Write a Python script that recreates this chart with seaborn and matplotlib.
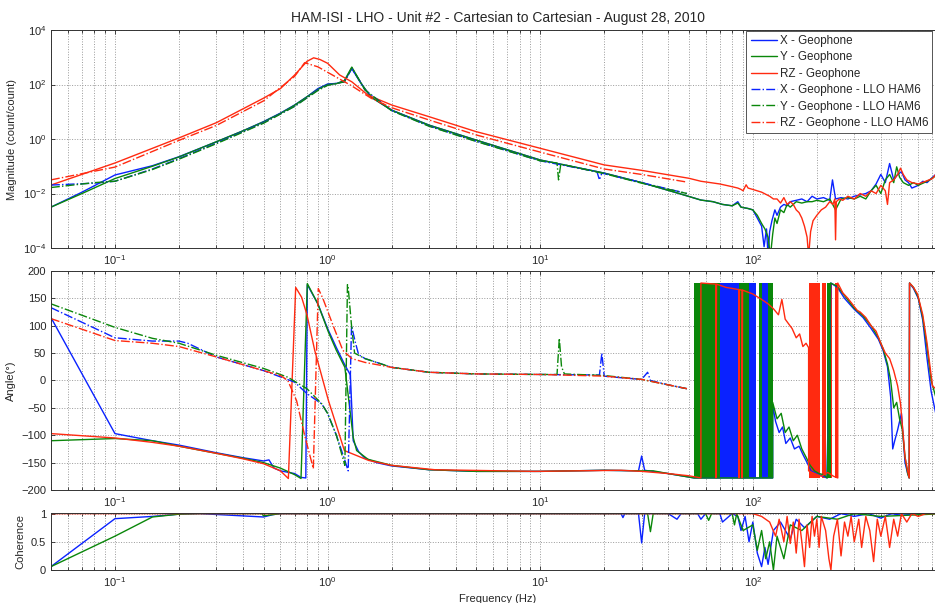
import numpy as np
import matplotlib
matplotlib.use("Agg")
import matplotlib.pyplot as plt
import matplotlib.ticker as mticker
import seaborn as sns

# =========================
# DATA
# =========================
TITLE = "HAM-ISI - LHO - Unit #2 - Cartesian to Cartesian - August 28, 2010"
labels = ["X - Geophone", "Y - Geophone", "RZ - Geophone",
          "X - Geophone - LLO HAM6", "Y - Geophone - LLO HAM6", "RZ - Geophone - LLO HAM6"]

# magnitude, stored as log10(count/count)
mag_x_f = [0.05, 0.07, 0.1, 0.15, 0.2, 0.3, 0.4, 0.5, 0.6, 0.7, 0.8, 0.9, 1.0, 1.1, 1.2, 1.3, 1.45, 1.6, 2, 3, 5, 10, 20, 30, 45, 57,
           65, 72, 80, 85, 88, 95, 100, 105, 110, 113, 116, 118, 120, 123, 127, 130, 135, 140, 145, 150, 160, 170, 180, 190, 200,
           215, 230, 237, 245, 260, 280, 300, 320, 340, 360, 380, 400, 420, 440, 460, 480, 500, 520, 540, 560, 580, 600, 630, 660,
           690, 725, 800]
mag_x_log = [-2.5, -1.95, -1.32, -0.98, -0.65, -0.1, 0.3, 0.64, 0.95, 1.25, 1.55, 1.85, 2.02, 2.04, 2.12, 2.58, 2.0, 1.54, 1.06, 0.51, -0.04, -0.77, -1.25, -1.6, -2.0, -2.24,
             -2.3, -2.4, -2.45, -2.3, -2.5, -2.55, -2.6, -2.9, -3.2, -3.95, -3.3, -4.3, -3.4, -3.0, -2.6, -2.8, -2.5, -2.4, -2.45, -2.3, -2.25, -2.2, -2.3, -2.1, -2.2,
             -2.15, -2.25, -1.5, -2.2, -2.15, -2.2, -2.1, -2.05, -2.0, -1.9, -1.65, -1.3, -1.6, -0.9, -1.5, -1.3, -1.2, -1.5, -1.6, -1.8, -1.75, -1.7, -1.55, -1.6,
             -1.45, -1.3, -1.2]

mag_y_f = [0.05, 0.07, 0.1, 0.15, 0.2, 0.3, 0.4, 0.5, 0.6, 0.7, 0.8, 0.9, 1.0, 1.1, 1.2, 1.3, 1.45, 1.6, 2, 3, 5, 10, 20, 30, 45, 57,
           65, 72, 80, 85, 88, 95, 100, 105, 110, 114, 118, 121, 124, 127, 130, 135, 140, 145, 150, 160, 170, 180, 190, 200, 215,
           230, 245, 260, 280, 300, 320, 340, 360, 380, 400, 420, 440, 460, 475, 490, 510, 540, 570, 600, 640, 680, 725, 800]
mag_y_log = [-2.5, -2.0, -1.45, -1.0, -0.66, -0.1, 0.3, 0.63, 0.94, 1.24, 1.55, 1.82, 2.0, 2.03, 2.15, 2.64, 2.0, 1.54, 1.06, 0.51, -0.04, -0.77, -1.25, -1.6, -2.0, -2.24,
             -2.3, -2.4, -2.45, -2.35, -2.5, -2.55, -2.6, -2.8, -3.1, -3.3, -3.6, -4.3, -3.5, -2.9, -3.1, -2.6, -2.7, -2.4, -2.5, -2.3, -2.35, -2.3, -2.3, -2.25, -2.3,
             -2.2, -2.6, -2.2, -2.15, -2.2, -2.1, -2.2, -1.9, -1.7, -2.0, -1.5, -1.3, -1.6, -1.02, -1.4, -1.6, -1.7, -1.6, -1.7, -1.6, -1.5, -1.35, -1.25]

mag_rz_f = [0.05, 0.1, 0.2, 0.3, 0.5, 0.6, 0.7, 0.8, 0.86, 0.92, 1.0, 1.14, 1.3, 1.55, 2, 3, 5, 10, 20, 30, 50,
            57, 70, 80, 85, 88, 90, 93, 95, 100, 110, 120, 125, 130, 135, 140, 145, 150, 155, 160, 165, 170, 175, 180, 183, 187,
            192, 200, 210, 220, 230, 238, 243, 245, 247, 255, 265, 280, 300, 320, 340, 360, 380, 400, 420, 430, 440, 460, 480, 495, 510,
            530, 560, 600, 650, 700, 725, 800]
mag_rz_log = [-1.69, -0.88, 0.04, 0.6, 1.5, 1.85, 2.35, 2.85, 2.98, 2.92, 2.78, 2.35, 2.1, 1.61, 1.25, 0.82, 0.27, -0.34, -0.95, -1.15, -1.44,
              -1.55, -1.65, -1.75, -1.8, -1.85, -1.9, -1.68, -1.8, -1.85, -1.95, -2.1, -2.2, -2.2, -2.35, -2.15, -2.4, -2.3, -2.4, -2.6, -2.7, -2.9, -3.2, -3.6, -4.3, -3.4,
              -3.0, -2.8, -2.6, -2.5, -2.3, -2.4, -2.2, -3.7, -2.3, -2.2, -2.25, -2.1, -2.2, -2.0, -2.1, -1.9, -2.0, -1.7, -1.9, -2.4, -1.6, -1.5, -1.3, -1.07, -1.3,
              -1.5, -1.6, -1.65, -1.55, -1.45, -1.3, -1.2]

mag_x_llo_f = [0.05, 0.08, 0.1, 0.15, 0.2, 0.3, 0.5, 0.7, 0.9, 1.0, 1.2, 1.3, 1.5, 2, 3, 5, 10, 18.5, 19, 19.5, 30, 49]
mag_x_llo_log = [-1.69, -1.62, -1.55, -1.1, -0.72, -0.15, 0.6, 1.2, 1.8, 1.98, 2.1, 2.6, 1.8, 1.05, 0.48, -0.08, -0.8, -1.2, -1.5, -1.25, -1.6, -2.0]

mag_y_llo_f = [0.05, 0.08, 0.1, 0.15, 0.2, 0.3, 0.5, 0.7, 0.9, 1.0, 1.2, 1.3, 1.5, 2, 3, 5, 10, 12, 12.2, 12.5, 20, 30, 49]
mag_y_llo_log = [-1.78, -1.6, -1.55, -1.12, -0.74, -0.17, 0.58, 1.2, 1.78, 1.97, 2.1, 2.62, 1.8, 1.04, 0.47, -0.09, -0.8, -0.88, -1.5, -0.92, -1.27, -1.62, -2.0]

mag_rz_llo_f = [0.05, 0.1, 0.2, 0.3, 0.5, 0.7, 0.78, 0.9, 1.0, 1.3, 1.6, 2, 3, 5, 10, 20, 30, 49]
mag_rz_llo_log = [-1.5, -1.03, -0.05, 0.5, 1.4, 2.3, 2.8, 2.65, 2.45, 1.95, 1.5, 1.15, 0.7, 0.15, -0.48, -1.1, -1.3, -1.58]

# phase (degrees)
ph_x_f = [0.05, 0.1, 0.15, 0.2, 0.3, 0.4, 0.5, 0.53, 0.56, 0.6, 0.7, 0.75, 0.79, 0.803, 0.9, 1.0, 1.1, 1.2, 1.28, 1.32, 1.4, 1.5, 1.7, 2, 3, 5, 10, 20, 29, 30, 31, 40, 53,
          124, 124, 128, 133, 138, 143, 150, 157, 165, 172, 180, 188, 200, 215, 223,
          233, 250, 270, 300, 330, 360, 390, 410, 430, 445, 455, 465, 480, 500, 520, 535, 544,
          546, 570, 600, 630, 660, 690, 725, 800]
ph_x = [115, -97, -110, -118, -132, -141, -147, -145, -160, -165, -170, -177, -178, 175, 140, 95, 60, 30, 10, -110, -130, -142, -150, -156, -163, -166, -166, -164, -165, -138, -164, -170, -178,
        -178, -45, -75, -95, -85, -115, -105, -125, -120, -135, -150, -165, -170, -175, -178,
        178, 170, 150, 130, 115, 95, 75, 55, 25, -30, -125, -110, -90, -60, -150, -170, -178,
        178, 168, 150, 110, 40, -20, -60, -120]

ph_y_f = [0.05, 0.1, 0.15, 0.2, 0.3, 0.4, 0.5, 0.6, 0.7, 0.75, 0.803, 0.9, 1.01, 1.1, 1.206, 1.32, 1.37, 1.55, 2, 3, 5, 10, 20, 30, 33, 34, 40, 53,
          124, 124, 130, 136, 142, 148, 155, 162, 170, 178, 186, 195, 205, 215, 224,
          232, 250, 270, 300, 330, 360, 390, 410, 430, 445, 460, 475, 490, 505, 520, 535, 544,
          546, 570, 600, 630, 660, 690, 725, 800]
ph_y = [-110, -106, -110, -120, -133, -142, -150, -160, -172, -179, 177, 140, 88, 55, 24, -104, -128, -144, -155, -163, -166, -166, -164, -165, -165, -165, -170, -178,
        -178, -40, -70, -60, -95, -85, -110, -100, -125, -140, -155, -165, -170, -172, -178,
        178, 172, 155, 132, 118, 100, 78, 58, 30, 0, -50, -40, -70, -90, -140, -170, -178,
        178, 170, 152, 115, 60, 0, -30, -90]

ph_rz_f = [0.05, 0.1, 0.15, 0.2, 0.3, 0.4, 0.5, 0.6, 0.654, 0.708, 0.755, 0.8, 0.87, 1.01, 1.2, 1.56, 2, 3.2, 9.4, 24, 30, 40, 50, 57,
           57, 62, 67, 67, 67.5, 75, 86, 86, 86.5, 89, 89, 89.5, 100, 110, 118, 125, 132, 137, 142, 147, 153, 160, 166, 172, 178, 183,
           183, 195, 210, 225, 240, 251,
           251, 265, 280, 300, 310, 320, 340, 360, 380, 400, 420, 440, 460, 480, 495, 510, 520, 535, 544,
           546, 570, 595, 630, 660, 700, 725, 800]
ph_rz = [-97, -105, -113, -120, -133, -143, -152, -165, -179, 170, 152, 120, 55, -37, -128, -146, -155, -163, -166, -164, -166, -170, -174, -178,
         178, 177, 176, -178, 176, 170, 166, -178, 166, 165, -178, 165, 158, 148, 140, 131, 120, 148, 112, 104, 95, 78, 85, 62, 68, 60,
         -165, -170, -175, -168, -175, -178,
         178, 160, 150, 135, 128, 125, 115, 100, 90, 68, 50, 40, 18, -10, -42, -100, -140, -165, -178,
         178, 170, 158, 120, 68, -10, -15, -40]

ph_x_llo_f = [0.05, 0.1, 0.15, 0.2, 0.22, 0.3, 0.5, 0.7, 0.8, 0.94, 1.0, 1.1, 1.206, 1.25, 1.296, 1.35, 1.4, 1.5, 2, 3, 5, 10, 19, 19.5, 20, 21, 30, 32, 33, 40, 49]
ph_x_llo = [133, 78, 72, 72, 68, 43, 18, -3, -24, -43, -60, -100, -146, -165, 100, 70, 47, 40, 24, 15, 12, 11, 10, 50, 8, 7, 2, 15, 0, -8, -15]

ph_y_llo_f = [0.05, 0.1, 0.15, 0.2, 0.3, 0.5, 0.65, 0.8, 0.94, 1.0, 1.1, 1.206, 1.24, 1.25, 1.296, 1.34, 1.5, 2, 3, 5, 10, 12, 12.3, 12.6, 13, 20, 30, 40, 49]
ph_y_llo = [140, 97, 77, 68, 46, 22, 6, -15, -43, -60, -100, -155, 175, 170, 100, 50, 40, 24, 15, 12, 11, 11, 77, 25, 12, 9, 2, -8, -15]

ph_rz_llo_f = [0.05, 0.1, 0.15, 0.2, 0.3, 0.5, 0.6, 0.65, 0.715, 0.78, 0.857, 0.904, 0.95, 1.07, 1.18, 1.3, 1.5, 2, 3, 5, 10, 20, 30, 40, 49]
ph_rz_llo = [113, 73, 68, 62, 43, 18, 9, 0, -37, -100, -161, 168, 150, 97, 55, 40, 33, 24, 15, 12, 11, 8, 2, -8, -15]

# frequency spans (Hz) where the phase wraps +/-180 many times
x_wrap_bands = [(53, 69), (70, 86), (95, 104), (110, 119)]
y_wrap_bands = [(53, 70), (86, 95.5), (107, 111), (118, 124), (224, 232)]
rz_wrap_bands = [(183, 206), (211, 221), (233, 236), (244, 251)]

# coherence
coh_x_f = [0.05, 0.1, 0.15, 0.2, 0.25, 0.5, 0.55, 0.6, 0.7, 20, 24, 24.5, 25, 29, 30, 31, 40, 44, 46, 55,
           57, 60, 70, 72, 80, 85, 88, 92, 96, 100, 105, 110, 114, 118, 125, 135, 150, 160, 175, 200,
           230, 260, 300, 350, 400, 450, 500, 600, 800]
coh_x = [0.06, 0.91, 0.95, 0.99, 1, 0.94, 0.98, 1, 1, 1, 1, 0.93, 1, 1, 0.48, 1, 1, 0.9, 1, 1,
         0.9, 1, 1, 0.85, 1, 0.95, 0.7, 0.95, 0.5, 0.85, 0.3, 0.06, 0.4, 0.1, 0.7, 0.85, 0.55, 0.9, 0.75, 0.95,
         0.9, 1, 0.95, 1, 0.92, 1, 0.97, 1, 1]

coh_y_f = [0.05, 0.1, 0.15, 0.2, 0.25, 0.49, 0.5, 0.6, 0.7, 20, 32, 33, 34, 50, 60, 62, 64, 70, 80, 82,
           84, 90, 100, 105, 110, 115, 120, 125, 130, 140, 150, 170, 200, 250, 300, 400, 800]
coh_y = [0.06, 0.6, 0.94, 0.99, 1, 1, 0.96, 1, 1, 1, 1, 0.68, 1, 1, 1, 0.88, 1, 1, 1, 0.8,
         1, 0.7, 0.8, 0.35, 0.7, 0.2, 0.5, 0.0, 0.6, 0.2, 0.8, 0.7, 0.95, 0.9, 1, 0.95, 1]

coh_rz_f = [0.05, 100, 110, 120, 128, 133, 140, 145, 150, 155, 160, 165, 170, 175, 180, 185, 190, 195, 200, 205, 210, 220, 228, 233,
            240, 250, 260, 270, 280, 290, 300, 315, 325, 340, 355, 370, 385, 400, 420, 440, 460, 480, 500, 530, 560, 600, 650, 800]
coh_rz = [1, 1, 0.95, 0.85, 0.6, 0.9, 0.5, 0.95, 0.47, 0.85, 0.3, 0.9, 0.5, 0.06, 0.8, 0.4, 0.95, 0.6, 0.9, 0.4, 0.95, 0.7, 0.2, 0.0,
          0.6, 0.9, 0.25, 0.85, 0.6, 0.95, 0.5, 0.9, 0.4, 0.95, 0.7, 0.15, 0.9, 0.6, 0.95, 0.4, 0.9, 0.6, 1, 0.85, 1, 0.95, 1, 1]

# =========================
# STYLE
# =========================
sns.set_style("ticks")
plt.rcParams["font.family"] = ["Liberation Sans", "DejaVu Sans"]
plt.rcParams["mathtext.fontset"] = "custom"
plt.rcParams["mathtext.rm"] = "Liberation Sans"
plt.rcParams["mathtext.it"] = "Liberation Sans:italic"

BLUE, GREEN, RED = "#0a22ff", "#0a870a", "#ff2a10"
FS = 8

fig = plt.figure(figsize=(9.35, 6.03), dpi=100)
W = 0.956
ax_mag = fig.add_axes([0.0545, 0.5887, W, 0.3615])
ax_ph = fig.add_axes([0.0545, 0.1874, W, 0.3632])
ax_coh = fig.add_axes([0.0545, 0.0547, W, 0.0945])


def draw(ax, f, v, color, ls="-", label=None):
    sns.lineplot(x=f, y=v, ax=ax, color=color, linestyle=ls, lw=1.0,
                 estimator=None, sort=False, legend=False, label=label)


def bands(ax, spans, color):
    for a, b in spans:
        ax.fill_between([a, b], -178, 178, color=color, lw=0)


for ax in (ax_mag, ax_ph, ax_coh):
    ax.set_xscale("log")

ax_mag.set_yscale("log")

# magnitude
draw(ax_mag, mag_x_f, 10.0 ** np.array(mag_x_log), BLUE, label=labels[0])
draw(ax_mag, mag_y_f, 10.0 ** np.array(mag_y_log), GREEN, label=labels[1])
draw(ax_mag, mag_rz_f, 10.0 ** np.array(mag_rz_log), RED, label=labels[2])
draw(ax_mag, mag_x_llo_f, 10.0 ** np.array(mag_x_llo_log), BLUE, "-.", labels[3])
draw(ax_mag, mag_y_llo_f, 10.0 ** np.array(mag_y_llo_log), GREEN, "-.", labels[4])
draw(ax_mag, mag_rz_llo_f, 10.0 ** np.array(mag_rz_llo_log), RED, "-.", labels[5])

# phase
draw(ax_ph, ph_x_f, ph_x, BLUE)
bands(ax_ph, x_wrap_bands, BLUE)
draw(ax_ph, ph_y_f, ph_y, GREEN)
bands(ax_ph, y_wrap_bands, GREEN)
draw(ax_ph, ph_rz_f, ph_rz, RED)
bands(ax_ph, rz_wrap_bands, RED)
draw(ax_ph, ph_x_llo_f, ph_x_llo, BLUE, "-.")
draw(ax_ph, ph_y_llo_f, ph_y_llo, GREEN, "-.")
draw(ax_ph, ph_rz_llo_f, ph_rz_llo, RED, "-.")

# coherence
draw(ax_coh, coh_x_f, coh_x, BLUE)
draw(ax_coh, coh_y_f, coh_y, GREEN)
draw(ax_coh, coh_rz_f, coh_rz, RED)

# =========================
# AXES
# =========================
for ax in (ax_mag, ax_ph, ax_coh):
    ax.set_xlim(0.05, 800)
    ax.xaxis.set_major_locator(mticker.LogLocator(base=10, numticks=10))
    ax.xaxis.set_minor_locator(mticker.LogLocator(base=10, subs=np.arange(2, 10), numticks=20))
    ax.xaxis.set_minor_formatter(mticker.NullFormatter())
    ax.grid(True, which="major", ls=":", color="#9a9a9a", lw=0.7)
    ax.grid(True, which="minor", axis="x", ls=":", color="#9a9a9a", lw=0.7)
    ax.tick_params(which="both", direction="in", top=True, right=True, labelsize=FS, length=3, width=0.6)
    ax.tick_params(which="minor", length=2)
    for s in ax.spines.values():
        s.set_color("#333333")
        s.set_linewidth(0.7)
        s.set_visible(True)
    ax.set_xlabel("")

ax_mag.set_ylim(1e-4, 1e4)
ax_mag.set_yticks([1e-4, 1e-2, 1e0, 1e2, 1e4])
ax_mag.yaxis.set_minor_locator(mticker.NullLocator())
ax_mag.set_ylabel("Magnitude (count/count)", fontsize=FS)

ax_ph.set_ylim(-200, 200)
ax_ph.set_yticks(np.arange(-200, 201, 50))
ax_ph.set_ylabel("Angle(°)", fontsize=FS)

ax_coh.set_ylim(0, 1.01)
ax_coh.set_yticks([0, 0.5, 1])
ax_coh.set_yticklabels(["0", "0.5", "1"])
ax_coh.set_ylabel("Coherence", fontsize=FS)
ax_coh.set_xlabel("Frequency (Hz)", fontsize=FS)

ax_mag.set_title(TITLE, fontsize=10, pad=6)

# legend kept just inside the right edge of the figure
leg = ax_mag.legend(loc="upper right", bbox_to_anchor=(0.986, 0.997), fontsize=8.4, frameon=True,
                    fancybox=False, framealpha=1, edgecolor="#555555", handlelength=2.3,
                    handletextpad=0.2, labelspacing=0.38, borderpad=0.35, borderaxespad=0.0)
leg.get_frame().set_linewidth(0.7)

fig.savefig("out.png", dpi=100)
